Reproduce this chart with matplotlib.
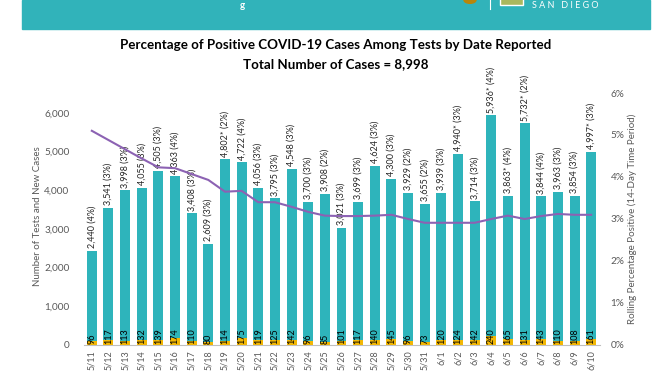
import matplotlib
matplotlib.use("Agg")
import matplotlib.pyplot as plt
from matplotlib.patches import Rectangle, Circle
import numpy as np

dates = ["5/11","5/12","5/13","5/14","5/15","5/16","5/17","5/18","5/19","5/20",
         "5/21","5/22","5/23","5/24","5/25","5/26","5/27","5/28","5/29","5/30",
         "5/31","6/1","6/2","6/3","6/4","6/5","6/6","6/7","6/8","6/9","6/10"]
tests = [2440, 3541, 3998, 4055, 4505, 4363, 3408, 2609, 4802, 4722,
         4056, 3795, 4548, 3700, 3908, 3021, 3699, 4624, 4300, 3929,
         3655, 3939, 4940, 3714, 5936, 3863, 5732, 3844, 3963, 3854, 4997]
daily_pct = [4, 3, 3, 3, 3, 4, 3, 3, 2, 4,
             3, 3, 3, 3, 2, 3, 3, 3, 3, 2,
             2, 3, 3, 3, 4, 4, 2, 4, 3, 3, 3]
starred = ["5/19", "6/2", "6/4", "6/5", "6/6", "6/10"]
cases = [96, 117, 113, 132, 139, 174, 110, 80, 114, 175,
         119, 125, 142, 96, 85, 101, 117, 140, 145, 96,
         73, 120, 124, 142, 240, 165, 131, 143, 110, 108, 161]
rolling_pct = [5.10, 4.88, 4.66, 4.44, 4.23, 4.21, 4.07, 3.93, 3.65, 3.67,
               3.40, 3.40, 3.29, 3.17, 3.08, 3.07, 3.07, 3.08, 3.10, 3.00,
               2.91, 2.91, 2.91, 2.91, 3.00, 3.08, 3.00, 3.07, 3.12, 3.10, 3.10]

TEAL = "#2eb4bb"
ORANGE = "#f2b705"
PURPLE = "#8c62b3"
GRAY = "#595959"
FONT = "Lato"

W, H = 672, 372
fig = plt.figure(figsize=(W / 100, H / 100), dpi=100)

# banner
fig.patches.append(Rectangle((22 / W, 1 - 29 / H), (650 - 22) / W, 29 / H,
                             transform=fig.transFigure, color="#31b3ba", zorder=0))
fig.text(242 / W, 1 - 1 / H, "g", color="white", fontsize=7, ha="center",
         va="top", family=FONT, fontweight="bold")
fig.patches.append(Circle((470 / W, 1 - 0 / H), 6 / W, transform=fig.transFigure,
                          color="#b8860b", zorder=1))
fig.lines.append(plt.Line2D([490 / W, 490 / W], [1, 1 - 9 / H], transform=fig.transFigure,
                            color="white", lw=0.8))
fig.patches.append(Rectangle((500 / W, 1 - 5 / H), 23 / W, 7 / H, transform=fig.transFigure,
                             facecolor="#aab85e", edgecolor="white", lw=1))
fig.text(532 / W, 1 - 1 / H, "S A N   D I E G O", color="white", fontsize=6.5, ha="left",
         va="top", family=FONT)

# titles
fig.text(336 / W, 1 - 45 / H, "Percentage of Positive COVID-19 Cases Among Tests by Date Reported",
         ha="center", va="center", fontsize=9.6, fontweight="bold", family=FONT, color="black")
fig.text(336 / W, 1 - 64 / H, "Total Number of Cases = 8,998",
         ha="center", va="center", fontsize=9.6, fontweight="bold", family=FONT, color="black")

left, right, top, bottom = 83.5, 599.5, 93, 345
ax = fig.add_axes([left / W, 1 - bottom / H, (right - left) / W, (bottom - top) / H])
x = np.arange(len(dates))
ax.bar(x, tests, width=0.6, color=TEAL, zorder=2)
ax.bar(x, cases, width=0.6, color=ORANGE, zorder=3)
ax.set_xlim(-0.5, len(dates) - 0.5)
ax.set_ylim(0, 6517)
ax.set_yticks(np.arange(0, 6001, 1000))
ax.set_yticklabels([f"{v:,}" for v in range(0, 6001, 1000)])
ax.set_xticks(x)
ax.set_xticklabels(dates, rotation=90)
for s in ["top", "right", "left"]:
    ax.spines[s].set_visible(False)
ax.spines["bottom"].set_color("#bfbfbf")
ax.tick_params(axis="y", length=0, pad=10, labelsize=7.2, labelcolor=GRAY)
ax.tick_params(axis="x", length=0, pad=4, labelsize=6.5, labelcolor=GRAY)
for lab in ax.get_xticklabels() + ax.get_yticklabels():
    lab.set_family(FONT)

for xi, d, t, p, c in zip(x, dates, tests, daily_pct, cases):
    star = "*" if d in starred else ""
    ax.text(xi, t + 70, f"{t:,}{star} ({p}%)", rotation=90, ha="center", va="bottom",
            fontsize=6.5, family=FONT, color="#262626", zorder=6)
    ax.text(xi, 30, f"{c}", rotation=90, ha="center", va="bottom",
            fontsize=6.5, family=FONT, color="black", zorder=6)

fig.text(38 / W, 1 - 216 / H, "Number of Tests and New Cases", rotation=90,
         ha="center", va="center", fontsize=7, family=FONT, color=GRAY)

ax2 = ax.twinx()
ax2.plot(x, rolling_pct, color=PURPLE, lw=1.5, zorder=5)
ax2.set_ylim(0, 6)
ax2.set_yticks(range(0, 7))
ax2.set_yticklabels([f"{v}%" for v in range(0, 7)])
for s in ["top", "right", "left", "bottom"]:
    ax2.spines[s].set_visible(False)
ax2.tick_params(axis="y", length=0, pad=8, labelsize=7.2, labelcolor=GRAY)
for lab in ax2.get_yticklabels():
    lab.set_family(FONT)
fig.text(632 / W, 1 - 219 / H, "Rolling Percentage Positive (14-Day Time Period)", rotation=90,
         ha="center", va="center", fontsize=7, family=FONT, color=GRAY)

fig.savefig("out.png", dpi=100)
